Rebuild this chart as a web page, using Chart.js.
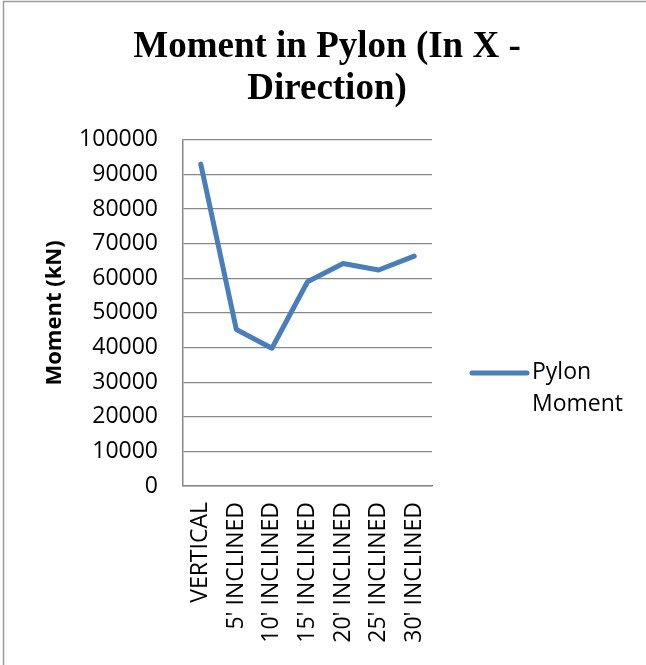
<!DOCTYPE html>
<html><head><meta charset="utf-8">
<script src="https://cdn.jsdelivr.net/npm/chart.js@4.4.1/dist/chart.umd.min.js"></script>
<style>html,body{margin:0;padding:0;background:#fff;} canvas{display:block;}</style>
</head><body>
<canvas id="c" width="646" height="665"></canvas>
<script>
// ---- data ----
const categories = ["VERTICAL", "5' INCLINED", "10' INCLINED", "15' INCLINED", "20' INCLINED", "25' INCLINED", "30' INCLINED"];
const pylonMoment = [93000, 45200, 39800, 59000, 64300, 62400, 66400];
const yMin = 0;
const yMax = 100000;
const yStep = 10000;
const titleLines = ["Moment in Pylon (In X -", "Direction)"];
const yAxisTitle = "Moment (kN)";
const seriesName = "Pylon Moment";

const SANS = "'Open Sans', 'Noto Sans', sans-serif";
const LINE_COLOR = '#4a7ebb';
const GRID_COLOR = '#878787';

const frame = {
  id: 'frame',
  beforeDraw(chart) {
    const ctx = chart.ctx;
    ctx.save();
    ctx.fillStyle = '#fff';
    ctx.fillRect(0, 0, chart.width, chart.height);
    ctx.strokeStyle = '#9c9c9c';
    ctx.lineWidth = 1.5;
    ctx.beginPath();
    ctx.moveTo(3.5, chart.height);
    ctx.lineTo(3.5, 1.5);
    ctx.lineTo(chart.width, 1.5);
    ctx.stroke();
    ctx.restore();
  }
};

const sideLegend = {
  id: 'sideLegend',
  afterDraw(chart) {
    const ctx = chart.ctx;
    const area = chart.chartArea;
    const ds = chart.data.datasets[0];
    const words = ds.label.split(' ');
    const x0 = area.right + 40, x1 = area.right + 95;
    const y0 = area.top + 233;
    ctx.save();
    ctx.strokeStyle = ds.borderColor;
    ctx.lineWidth = ds.borderWidth;
    ctx.lineCap = 'round';
    ctx.beginPath();
    ctx.moveTo(x0, y0);
    ctx.lineTo(x1, y0);
    ctx.stroke();
    ctx.fillStyle = '#000';
    ctx.font = "23px " + SANS;
    ctx.textBaseline = 'middle';
    ctx.textAlign = 'left';
    words.forEach((w, i) => ctx.fillText(w, x1 + 5, y0 + i * 32));
    ctx.restore();
  }
};

new Chart(document.getElementById('c'), {
  type: 'line',
  data: {
    labels: categories,
    datasets: [{
      label: seriesName,
      data: pylonMoment,
      borderColor: LINE_COLOR,
      backgroundColor: LINE_COLOR,
      borderWidth: 5,
      pointRadius: 0,
      pointHoverRadius: 0,
      tension: 0,
      fill: false,
      borderCapStyle: 'round',
      borderJoinStyle: 'round'
    }]
  },
  options: {
    responsive: false,
    animation: false,
    devicePixelRatio: 1,
    events: [],
    layout: { padding: { left: 8, right: 0, top: 0, bottom: 0 } },
    plugins: {
      legend: { display: false },
      tooltip: { enabled: false },
      title: {
        display: true,
        text: titleLines,
        color: '#000',
        font: { family: "'Liberation Serif', 'Times New Roman', serif", size: 37, weight: 'bold', lineHeight: 1.12 },
        padding: { top: 27, bottom: 30 }
      }
    },
    scales: {
      x: {
        type: 'category',
        offset: true,
        grid: { display: false, drawTicks: false },
        border: { display: true, color: GRID_COLOR, width: 1.5 },
        ticks: {
          color: '#000',
          font: { family: SANS, size: 23 },
          maxRotation: 90,
          minRotation: 90,
          padding: 16,
          autoSkip: false
        },
        afterFit(s) { s.height = 179; }
      },
      y: {
        min: yMin,
        max: yMax,
        grid: { color: GRID_COLOR, lineWidth: 1.3, drawTicks: false },
        border: { display: true, color: GRID_COLOR, width: 1.5 },
        ticks: {
          stepSize: yStep,
          color: '#000',
          font: { family: SANS, size: 23 },
          padding: 25,
          callback: (v) => String(v)
        },
        title: {
          display: true,
          text: yAxisTitle,
          color: '#000',
          font: { family: SANS, size: 22, weight: 'bold', lineHeight: 1.2 },
          padding: { top: 34, bottom: 0 }
        },
        afterFit(s) { s.width = 175; }
      },
      yRight: {
        position: 'right',
        display: true,
        grid: { display: false, drawTicks: false },
        border: { display: false },
        ticks: { display: false },
        afterFit(s) { s.width = 214; }
      }
    }
  },
  plugins: [frame, sideLegend]
});
</script>
</body></html>
